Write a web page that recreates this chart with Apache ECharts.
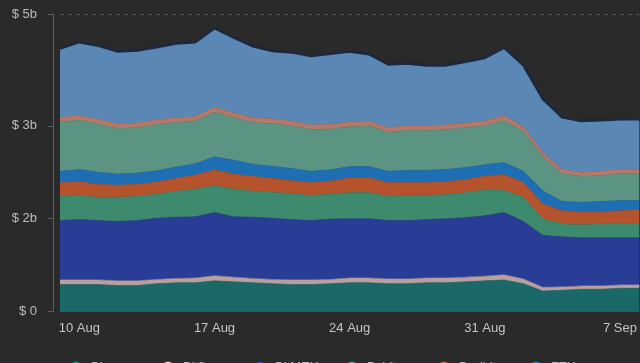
<!DOCTYPE html>
<html>
<head>
<meta charset="utf-8">
<script src="https://cdn.jsdelivr.net/npm/echarts@6/dist/echarts.min.js"></script>
<style>
html,body{margin:0;padding:0;background:#2a2a2a;}
#c{width:640px;height:363px;}
</style>
</head>
<body>
<div id="c"></div>
<script>
// Dates (daily)
const dates = ['9 Aug','10 Aug','11 Aug','12 Aug','13 Aug','14 Aug','15 Aug','16 Aug','17 Aug','18 Aug','19 Aug','20 Aug','21 Aug','22 Aug','23 Aug','24 Aug','25 Aug','26 Aug','27 Aug','28 Aug','29 Aug','30 Aug','31 Aug','1 Sep','2 Sep','3 Sep','4 Sep','5 Sep','6 Sep','7 Sep','8 Sep'];
const xTickIndices = [1, 8, 15, 22, 29];

// Y axis: values in the chart's own axis units (ticks as labelled in the picture)
const yTickValues = [0, 1, 2, 3.2];
const yTickLabels = ['$ 0', '$ 2b', '$ 3b', '$ 5b'];

const binance  = [0.29,0.29,0.29,0.28,0.28,0.30,0.31,0.31,0.33,0.32,0.31,0.30,0.29,0.29,0.30,0.31,0.31,0.30,0.30,0.31,0.31,0.32,0.33,0.34,0.30,0.22,0.23,0.24,0.24,0.25,0.25];
const bitfinex = [0.05,0.05,0.05,0.05,0.05,0.045,0.045,0.05,0.055,0.05,0.045,0.045,0.05,0.05,0.045,0.05,0.05,0.05,0.05,0.05,0.05,0.05,0.05,0.055,0.05,0.04,0.035,0.035,0.035,0.035,0.035];
const bitmex   = [0.64,0.65,0.64,0.64,0.65,0.66,0.66,0.66,0.68,0.65,0.66,0.66,0.65,0.64,0.65,0.64,0.64,0.63,0.63,0.63,0.64,0.64,0.65,0.67,0.62,0.56,0.54,0.52,0.52,0.51,0.51];
const bybit    = [0.26,0.26,0.25,0.26,0.26,0.26,0.28,0.30,0.29,0.30,0.28,0.28,0.28,0.27,0.27,0.28,0.28,0.26,0.27,0.26,0.26,0.27,0.28,0.24,0.26,0.18,0.14,0.14,0.15,0.15,0.15];
const deribit  = [0.15,0.15,0.14,0.13,0.13,0.13,0.14,0.15,0.17,0.16,0.16,0.15,0.14,0.14,0.14,0.16,0.16,0.15,0.14,0.14,0.14,0.14,0.15,0.17,0.16,0.16,0.14,0.14,0.13,0.14,0.15];
const ftx      = [0.12,0.13,0.13,0.12,0.12,0.12,0.12,0.12,0.14,0.15,0.13,0.13,0.13,0.12,0.12,0.12,0.12,0.12,0.13,0.13,0.13,0.13,0.12,0.13,0.12,0.14,0.10,0.10,0.11,0.11,0.10];
const huobi    = [0.53,0.53,0.52,0.49,0.49,0.50,0.48,0.46,0.48,0.46,0.45,0.46,0.46,0.45,0.44,0.43,0.44,0.42,0.43,0.43,0.43,0.43,0.42,0.45,0.43,0.36,0.30,0.28,0.28,0.29,0.29];
const kraken   = [0.05,0.05,0.05,0.05,0.05,0.05,0.05,0.05,0.055,0.05,0.05,0.05,0.05,0.05,0.05,0.05,0.05,0.05,0.05,0.05,0.05,0.05,0.05,0.055,0.05,0.05,0.045,0.045,0.045,0.045,0.045];
const okex     = [0.74,0.79,0.79,0.78,0.78,0.78,0.80,0.80,0.85,0.81,0.77,0.73,0.74,0.74,0.76,0.76,0.72,0.68,0.67,0.65,0.64,0.66,0.68,0.73,0.66,0.58,0.56,0.55,0.55,0.54,0.54];

const seriesNames = ['Binance','Bitfinex','BitMEX','Bybit','Deribit','FTX','Huobi','Kraken','OKEx'];
const seriesValues = [binance, bitfinex, bitmex, bybit, deribit, ftx, huobi, kraken, okex];
const areaColors   = ['#1a6968','#b8a09e','#293d96','#3e8a6e','#b5532d','#1e6eb4','#5c9484','#b67868','#5a87b4'];
const legendColors = ['#1a8a88','#e8c0b0','#2a48c8','#40a888','#d85c2c','#1a7ed8','#6db7a2','#e5927d','#6aa6e2'];

const FONT = '"Liberation Sans", Arial, "DejaVu Sans", sans-serif';

const chart = echarts.init(document.getElementById('c'), null, {renderer: 'canvas'});

const series = seriesNames.map((name, k) => ({
  name: name,
  type: 'line',
  stack: 'total',
  symbol: 'none',
  smooth: false,
  color: areaColors[k],
  lineStyle: k === seriesNames.length - 1 ? {width: 2.5, color: '#1c2740'} : {width: 0.6, color: areaColors[k]},
  areaStyle: {opacity: 1, color: areaColors[k]},
  emphasis: {disabled: true},
  data: seriesValues[k]
}));

// One legend box per series: uniform spacing, first row of six, rest wrap off-canvas
const legends = seriesNames.map((name, k) => ({
  left: 65 + (k % 6) * 92,
  top: 356 + Math.floor(k / 6) * 24,
  icon: 'circle',
  itemWidth: 12,
  itemHeight: 12,
  textStyle: {color: '#bdbdbd', fontSize: 13, fontFamily: FONT, padding: [0, 0, 0, 4]},
  data: [{name: name, itemStyle: {color: legendColors[k]}}]
}));

chart.setOption({
  backgroundColor: '#2a2a2a',
  animation: false,
  grid: {left: 60, right: 0, top: 14.3, bottom: 51.5},
  legend: legends,
  xAxis: {
    type: 'category',
    boundaryGap: false,
    data: dates,
    axisLine: {show: true, lineStyle: {color: '#4a4a4a', width: 1}},
    axisTick: {show: false},
    splitLine: {show: false},
    axisLabel: {
      interval: (idx) => xTickIndices.indexOf(idx) >= 0,
      color: '#c4c4c4',
      fontSize: 13,
      fontFamily: FONT,
      margin: 10
    }
  },
  yAxis: {
    type: 'value',
    min: 0,
    max: 3.2,
    offset: 7,
    axisLine: {show: true, lineStyle: {color: '#5a5a5a', width: 1}},
    axisTick: {show: true, length: 5, customValues: yTickValues, lineStyle: {color: '#5a5a5a'}},
    splitLine: {show: true, lineStyle: {color: '#555555', type: [4, 4], width: 1}},
    axisLabel: {
      customValues: yTickValues,
      formatter: v => {
        const idx = yTickValues.findIndex(t => Math.abs(t - v) < 1e-6);
        return idx >= 0 ? yTickLabels[idx] : '';
      },
      color: '#bdbdbd',
      fontSize: 13,
      fontFamily: FONT,
      margin: 16
    }
  },
  series: series
});
</script>
</body>
</html>
